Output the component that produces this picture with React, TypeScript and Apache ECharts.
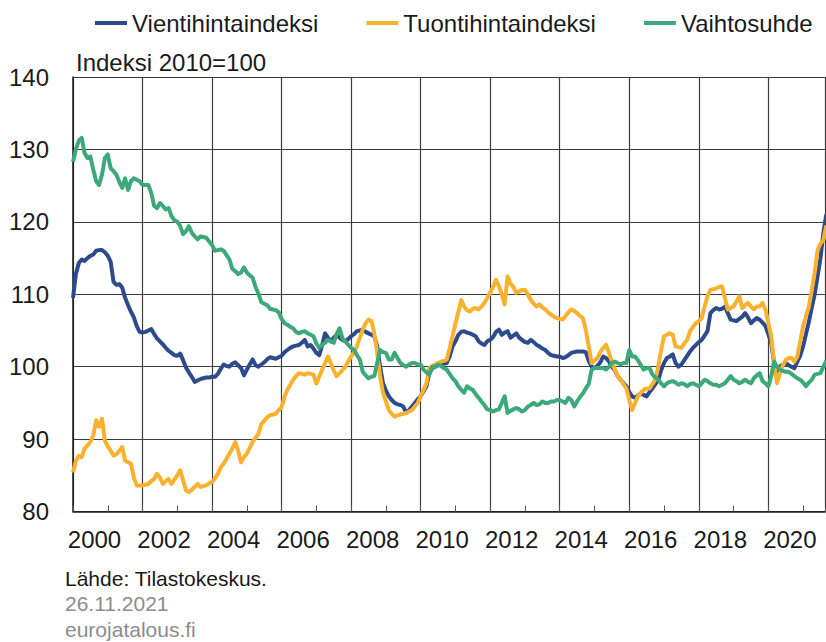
import React, { useEffect, useRef } from "react";
import * as echarts from "echarts";

// Monthly values, Jan 2000 – Sep 2021
const startYear = 2000;

const vientihintaindeksi = [
  109.5, 112.8, 114.3, 114.8, 114.6, 115.0, 115.3, 115.5, 116.0, 116.1, 116.1, 115.8,
  115.3, 114.5, 111.7, 111.3, 111.4, 110.9, 109.5, 108.5, 107.6, 106.8, 105.6, 104.8,
  104.7, 104.8, 105.0, 105.2, 104.5, 103.9, 103.5, 103.1, 102.6, 102.2, 101.9, 101.6,
  101.5, 101.8, 100.9, 99.9, 99.2, 98.6, 97.9, 98.1, 98.3, 98.4, 98.5, 98.5,
  98.6, 98.6, 99.0, 99.7, 100.3, 100.1, 100.0, 100.4, 100.6, 100.2, 99.8, 98.8,
  99.6, 100.3, 101.0, 100.2, 100.0, 100.3, 100.6, 101.0, 101.3, 101.2, 101.1, 101.3,
  101.5, 102.0, 102.3, 102.6, 102.8, 102.9, 103.0, 103.3, 103.7, 102.8, 103.0, 102.5,
  101.9, 101.6, 103.0, 104.6, 104.0, 103.5, 104.0, 104.4, 104.0, 103.7, 103.5, 103.8,
  104.2, 104.5, 104.9, 105.0, 105.1, 104.8, 104.6, 104.4, 104.2, 102.8, 100.0, 97.7,
  96.7, 95.9, 95.4, 95.0, 94.8, 94.7, 94.5, 93.6, 94.0, 94.5, 95.0, 95.5,
  95.9, 96.6, 97.3, 99.1, 99.8, 100.0, 100.2, 100.3, 100.4, 100.5, 101.4, 102.8,
  103.5, 104.4, 104.8, 104.9, 104.7, 104.6, 104.4, 104.2, 103.5, 103.2, 103.0, 103.5,
  103.7, 104.1, 104.8, 105.1, 104.4, 104.7, 104.9, 104.0, 104.3, 104.6, 104.0, 103.7,
  103.4, 103.3, 103.7, 103.4, 103.0, 102.8, 102.5, 102.3, 101.9, 101.6, 101.5, 101.4,
  101.4, 101.2, 101.3, 101.6, 101.9, 102.0, 102.1, 102.1, 102.1, 102.0, 100.8, 100.0,
  99.8, 100.1, 100.6, 101.4, 101.2, 100.7, 100.0, 99.5, 98.7, 98.2, 97.7, 97.3,
  96.5, 95.9, 95.7, 96.0, 96.3, 96.1, 95.9, 96.5, 97.0, 97.6, 98.2, 99.5,
  100.5, 101.2, 101.4, 101.7, 100.5, 100.0, 100.3, 100.9, 101.5, 102.1, 102.6, 103.0,
  103.4, 103.7, 104.3, 104.9, 107.4, 107.8, 108.1, 107.9, 108.0, 108.3, 107.4, 106.5,
  106.4, 106.3, 106.6, 106.9, 107.4, 106.8, 106.0, 106.4, 106.7, 106.5, 106.1, 105.6,
  104.5, 103.3, 100.5, 99.3, 100.0, 100.3, 100.5, 100.2, 100.0, 99.8, 100.7, 101.5,
  102.8, 104.5, 106.2, 108.2, 110.0, 112.5, 115.0, 118.5, 121.0,
];

const tuontihintaindeksi = [
  85.4, 87.0, 87.7, 87.5, 88.7, 89.1, 89.6, 90.5, 92.6, 91.7, 92.8, 89.8,
  89.0, 88.4, 87.7, 87.9, 88.4, 88.9, 87.0, 86.8, 86.6, 84.7, 83.6, 83.6,
  83.6, 83.7, 83.8, 84.2, 84.5, 85.2, 84.7, 83.8, 84.2, 84.5, 83.8, 84.4,
  85.0, 85.7, 84.3, 82.9, 82.7, 83.0, 83.4, 83.8, 83.4, 83.5, 83.6, 83.9,
  84.1, 84.6, 85.2, 86.1, 86.6, 87.3, 88.0, 88.7, 89.6, 88.4, 86.8, 87.5,
  88.0, 88.8, 89.6, 90.2, 90.7, 92.1, 92.5, 93.0, 93.3, 93.4, 93.5, 94.0,
  94.4, 95.8, 96.8, 97.5, 98.2, 98.7, 99.1, 99.0, 98.9, 99.1, 99.0, 98.9,
  97.7, 98.6, 99.6, 100.5, 101.4, 100.5, 99.5, 98.7, 99.1, 99.5, 100.0, 100.7,
  101.4, 102.0, 102.8, 104.0, 105.1, 106.0, 106.5, 106.3, 104.6, 101.9, 98.7, 96.4,
  95.2, 94.0, 93.5, 93.1, 93.3, 93.4, 93.5, 93.6, 93.8, 94.0, 94.5, 95.0,
  95.9, 96.8, 97.7, 99.8, 100.1, 100.3, 100.5, 100.7, 100.8, 101.0, 102.5, 104.2,
  106.0, 107.5, 109.2, 108.3, 107.8, 107.6, 108.0, 108.1, 107.9, 108.3, 108.8, 109.5,
  110.2, 111.0, 112.0, 111.1, 110.0, 108.6, 112.5, 111.5, 111.0, 110.2, 110.4, 110.6,
  110.6, 110.0, 109.2, 108.7, 108.3, 108.6, 108.2, 107.9, 107.5, 107.2, 106.9, 106.7,
  106.6, 106.5, 107.0, 107.5, 107.9, 107.7, 107.4, 107.0, 106.7, 105.1, 102.8, 100.5,
  100.8, 101.2, 102.0, 102.6, 103.0, 101.9, 100.7, 99.6, 98.7, 98.2, 97.6, 97.0,
  95.4, 94.0, 95.0, 95.9, 96.4, 96.8, 97.0, 97.0, 97.6, 98.2, 100.0, 102.3,
  104.2, 104.4, 104.6, 104.4, 102.8, 102.7, 102.6, 103.2, 103.7, 104.9, 105.5, 106.0,
  106.3, 106.7, 108.3, 109.7, 110.6, 110.7, 110.8, 111.0, 111.1, 109.5, 107.9, 108.1,
  108.3, 109.0, 109.7, 108.1, 108.5, 108.8, 108.3, 107.9, 108.3, 108.3, 108.8, 107.9,
  106.0, 104.2, 100.5, 97.7, 99.1, 100.2, 100.9, 101.2, 101.2, 100.7, 101.4, 103.5,
  105.6, 107.0, 108.3, 110.6, 113.0, 116.1, 117.0, 117.5, 119.5,
];

const vaihtosuhde = [
  128.3, 130.0, 131.2, 131.6, 129.5, 128.8, 129.0, 127.2, 125.6, 125.1, 126.5, 128.8,
  129.3, 127.4, 127.0, 126.5, 125.5, 124.7, 126.0, 124.4, 125.6, 126.0, 125.8, 125.6,
  125.1, 125.1, 125.1, 124.0, 122.2, 121.9, 122.6, 122.2, 121.7, 121.9, 120.8, 120.2,
  120.0, 119.4, 118.3, 118.7, 119.4, 118.5, 118.0, 117.6, 118.0, 117.9, 117.8, 117.3,
  116.8, 116.0, 116.1, 116.2, 116.0, 115.4, 114.8, 113.5, 113.2, 112.8, 113.0, 113.7,
  113.0, 112.6, 112.3, 111.0, 110.1, 108.9, 108.7, 108.5, 108.0, 107.9, 107.8, 107.5,
  106.6, 106.0, 105.8, 105.5, 105.3, 104.8, 104.6, 104.8, 104.9, 104.6, 104.4, 104.2,
  103.2, 102.6, 103.0, 103.3, 103.7, 103.5, 103.3, 104.5, 105.3, 103.9, 103.5, 103.0,
  102.6, 102.3, 101.6, 101.0, 99.3, 98.8, 98.4, 98.6, 98.7, 100.5, 102.3, 102.0,
  101.9, 101.0, 101.0, 101.9, 101.2, 100.5, 100.2, 100.0, 100.3, 100.5, 100.5, 100.3,
  100.3, 99.6, 99.2, 98.9, 100.0, 100.0, 100.3, 100.1, 99.8, 99.6, 99.0, 98.4,
  98.0, 97.3, 96.8, 96.4, 97.3, 97.0, 96.8, 96.2, 95.7, 95.2, 94.7, 94.1,
  94.0, 93.8, 94.0, 94.1, 95.0, 95.9, 93.6, 93.9, 94.1, 94.3, 94.1, 93.8,
  94.0, 94.5, 94.7, 95.0, 94.7, 94.8, 95.2, 95.0, 95.0, 95.2, 95.2, 95.4,
  95.4, 95.2, 95.0, 95.7, 95.4, 94.5, 95.2, 95.8, 96.3, 97.0, 97.6, 99.6,
  99.8, 99.8, 99.8, 99.8, 99.6, 100.0, 100.5, 100.7, 100.5, 100.3, 100.5, 100.5,
  102.3, 101.4, 101.4, 100.9, 100.2, 99.6, 99.8, 99.8, 98.9, 98.5, 98.2, 97.7,
  97.3, 97.7, 97.9, 98.0, 97.8, 97.5, 97.7, 97.6, 97.3, 97.6, 97.7, 97.5,
  97.3, 97.7, 98.2, 98.0, 97.7, 97.5, 97.5, 97.3, 97.5, 97.7, 98.2, 98.7,
  98.2, 98.0, 97.7, 97.9, 98.2, 97.9, 97.7, 98.4, 98.8, 99.1, 98.0, 97.7,
  97.3, 98.7, 100.7, 100.0, 99.6, 99.4, 99.3, 99.3, 99.0, 98.7, 98.4, 98.2,
  97.8, 97.3, 97.8, 98.2, 98.9, 99.0, 99.1, 100.0, 100.8,
];

const seriesNames = ["Vientihintaindeksi", "Tuontihintaindeksi", "Vaihtosuhde"];
const seriesColors = ["#2D4B8C", "#F9B12F", "#3DA87A"];
const yearTicks = [2000, 2002, 2004, 2006, 2008, 2010, 2012, 2014, 2016, 2018, 2020];
const yTicks = [80, 90, 100, 110, 120, 130, 140];
const unitText = "Indeksi 2010=100";
const footerLines = ["Lähde: Tilastokeskus.", "26.11.2021", "eurojatalous.fi"];

const X_MIN = 2000;
const X_MAX = 2021.63;
const FONT = "'Liberation Sans', Arial, Helvetica, sans-serif";

function toPairs(values: number[]) {
  return values.map((v, i) => [startYear + i / 12, v]);
}

export default function App() {
  const ref = useRef<HTMLDivElement>(null);

  useEffect(() => {
    if (!ref.current) return;
    const chart = echarts.init(ref.current, undefined, { renderer: "svg" });
    const allSeries = [vientihintaindeksi, tuontihintaindeksi, vaihtosuhde];
    const footerY = [578, 603.5, 629];
    const option: any = {
      animation: false,
      backgroundColor: "#ffffff",
      textStyle: { fontFamily: FONT },
      legend: {
        data: seriesNames,
        left: 90,
        top: 6,
        icon: "rect",
        itemWidth: 32,
        itemHeight: 4,
        itemGap: 48,
        textStyle: { fontSize: 24, color: "#1a1a1a", fontFamily: FONT },
      },
      grid: { left: 73, top: 77, width: 752, height: 434.5, containLabel: false },
      xAxis: {
        type: "value",
        min: X_MIN,
        max: X_MAX,
        interval: 2,
        axisLine: { show: true, onZero: false, lineStyle: { color: "#1a1a1a", width: 1.5 } },
        axisTick: { show: true, inside: true, length: 6, lineStyle: { color: "#555", width: 1 } },
        minorTick: { show: true, splitNumber: 2, length: 6, lineStyle: { color: "#555", width: 1 } },
        axisLabel: {
          show: true,
          margin: 16,
          fontSize: 24,
          color: "#1a1a1a",
          fontFamily: FONT,
          align: "center",
          padding: [0, 0, 0, 43],
          showMaxLabel: false,
          formatter: (v: number) => {
            const r = Math.round(v);
            return Math.abs(v - r) < 0.01 && yearTicks.includes(r) ? String(r) : "";
          },
        },
        splitLine: { show: true, lineStyle: { color: "#3c3c3c", width: 1.2 } },
      },
      yAxis: {
        type: "value",
        min: yTicks[0],
        max: yTicks[yTicks.length - 1],
        interval: 10,
        axisLine: { show: true, lineStyle: { color: "#1a1a1a", width: 1.5 } },
        axisTick: { show: false },
        axisLabel: { margin: 24, fontSize: 24, color: "#1a1a1a", fontFamily: FONT },
        splitLine: { show: true, lineStyle: { color: "#3c3c3c", width: 1.2 } },
      },
      graphic: [
        {
          type: "text",
          left: 76,
          top: 50,
          style: { text: unitText, fontSize: 24, fill: "#1a1a1a", fontFamily: FONT },
        },
        ...footerLines.map((t, i) => ({
          type: "text",
          x: 65,
          y: footerY[i],
          style: {
            text: t,
            fontSize: 21,
            verticalAlign: "middle",
            align: "left",
            fill: i === 0 ? "#1a1a1a" : "#8c8c8c",
            fontFamily: FONT,
          },
        })),
      ],
      series: allSeries.map((vals, i) => ({
        name: seriesNames[i],
        type: "line",
        data: toPairs(vals),
        showSymbol: false,
        symbol: "none",
        lineStyle: { width: 4, color: seriesColors[i], join: "round" },
        itemStyle: { color: seriesColors[i] },
        clip: true,
      })),
    };
    chart.setOption(option);
    return () => chart.dispose();
  }, []);

  return (
    <div
      ref={ref}
      style={{ position: "absolute", left: 0, top: 0, width: 826, height: 642, background: "#fff" }}
    />
  );
}
